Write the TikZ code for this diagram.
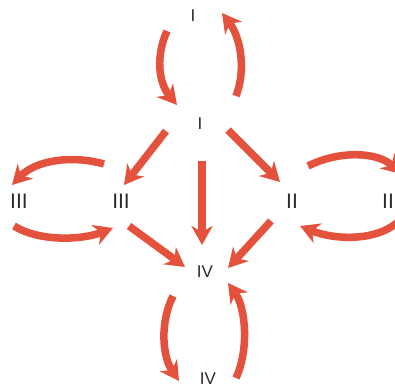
\documentclass[tikz,border=0pt]{standalone}
\usepackage{fontspec}
\setmainfont{Liberation Sans}
\usetikzlibrary{arrows.meta}
\definecolor{arr}{HTML}{E4513C}
\definecolor{lab}{HTML}{2A2A2A}
\tikzset{
  lbl/.style={text=lab, font=\fontsize{17}{17}\selectfont, inner sep=0pt},
  lblb/.style={text=lab, font=\fontsize{21}{21}\selectfont, inner sep=0pt},
  bigarrow/.style={draw=arr, line width=7.5pt, -{Stealth[length=19pt,width=21pt,inset=6pt]}},
}
\begin{document}
\begin{tikzpicture}[x=1pt,y=-1pt]
\useasboundingbox (0,0) rectangle (395,389);
\fill[white] (0,0) rectangle (395,389);
% labels
\node[lbl] (Itop) at (193,16) {I};
\node[lbl] (Imid) at (200,124) {I};
\node[lblb] (IIIo) at (19,201) {III};
\node[lblb] (IIIi) at (121,201) {III};
\node[lblb] (IIi) at (292,201) {II};
\node[lblb] (IIo) at (388,201) {II};
\node[lbl] (IVmid) at (205,272) {IV};
\node[lbl] (IVbot) at (208,379) {IV};
% arrow endpoints
\coordinate (a1) at (167,31); \coordinate (a2) at (177,105);
\coordinate (b1) at (236,96); \coordinate (b2) at (222,13);
\coordinate (c1) at (104,164); \coordinate (c2) at (12,185);
\coordinate (d1) at (14,226); \coordinate (d2) at (113,228);
\coordinate (e1) at (308,166); \coordinate (e2) at (401,174);
\coordinate (f1) at (400,220); \coordinate (f2) at (300,226);
\coordinate (g1) at (173,296); \coordinate (g2) at (179,381);
\coordinate (h1) at (236,378); \coordinate (h2) at (228,283);
\coordinate (s1) at (166,131); \coordinate (s2) at (124,185);
\coordinate (t1) at (202,161); \coordinate (t2) at (202,245);
\coordinate (u1) at (228,130); \coordinate (u2) at (280,182);
\coordinate (v1) at (129,226); \coordinate (v2) at (185,267);
\coordinate (w1) at (271,221); \coordinate (w2) at (228,268);
% curved arrows
\draw[bigarrow] (a1) .. controls (156,55) and (158,82) .. (a2);
\draw[bigarrow] (b1) .. controls (246,70) and (241,38) .. (b2);
\draw[bigarrow] (c1) .. controls (72,155) and (36,160) .. (c2);
\draw[bigarrow] (d1) .. controls (40,242) and (82,240) .. (d2);
\draw[bigarrow] (e1) .. controls (340,150) and (378,152) .. (e2);
\draw[bigarrow] (f1) .. controls (378,242) and (334,240) .. (f2);
\draw[bigarrow] (g1) .. controls (160,322) and (162,356) .. (g2);
\draw[bigarrow] (h1) .. controls (249,350) and (246,308) .. (h2);
% straight arrows
\draw[bigarrow] (s1) -- (s2);
\draw[bigarrow] (t1) -- (t2);
\draw[bigarrow] (u1) -- (u2);
\draw[bigarrow] (v1) -- (v2);
\draw[bigarrow] (w1) -- (w2);
\end{tikzpicture}
\end{document}
